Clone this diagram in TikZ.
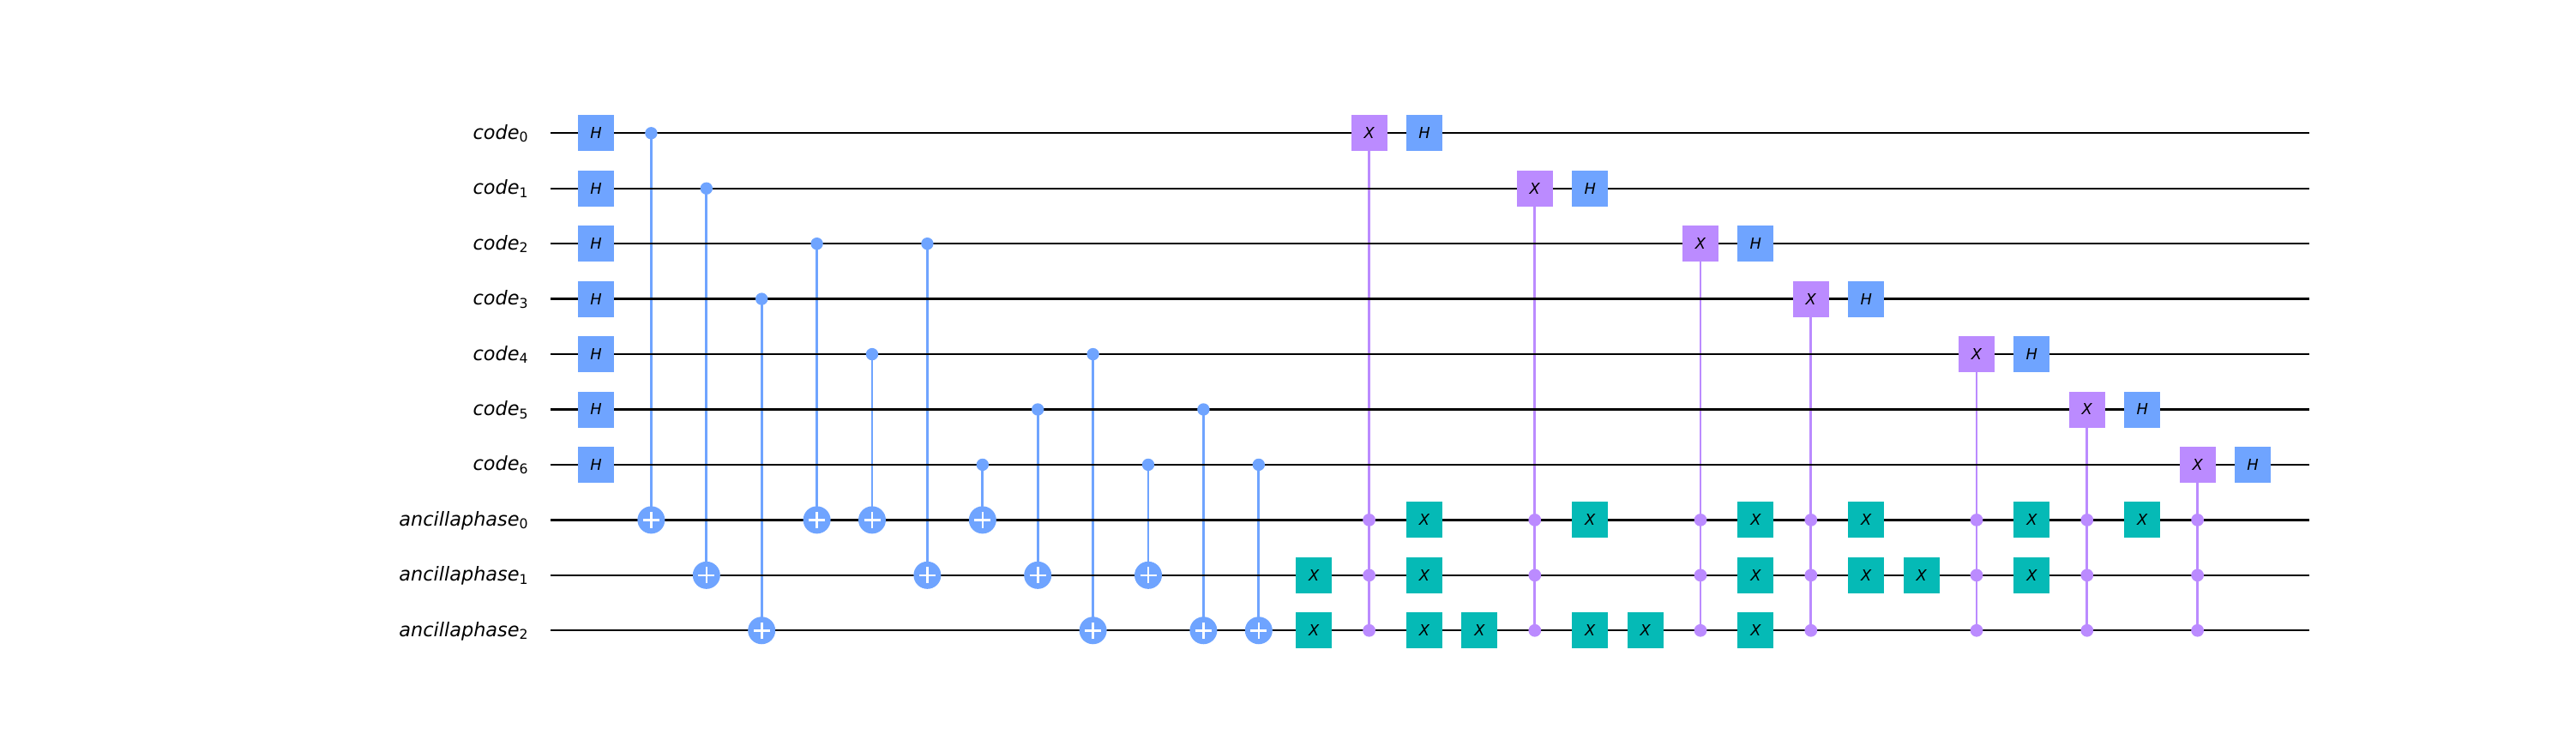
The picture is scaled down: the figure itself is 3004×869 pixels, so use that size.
\documentclass[tikz,border=0pt]{standalone}
\usepackage{fontspec}
\setmainfont{DejaVu Sans}
\usetikzlibrary{backgrounds}
\definecolor{hblue}{HTML}{6FA4FF}
\definecolor{xpurple}{HTML}{BB8BFF}
\definecolor{xteal}{HTML}{05BAB6}
\newcommand{\qlabel}[2]{{\itshape #1}\raisebox{-1.8pt}{\fontsize{7.84}{9}\selectfont #2}}
\newcommand{\colx}{695+64.4*\k}
\newcommand{\rowy}{155.3+64.44*\r}
\tikzset{
  gatebox/.style={rectangle,minimum size=21pt,inner sep=0pt,font=\fontsize{8.9}{10}\selectfont\itshape},
  hgate/.style={gatebox,fill=hblue},
  xgate/.style={gatebox,fill=xteal},
  mcxgate/.style={gatebox,fill=xpurple},
  ctrlblue/.style={circle,fill=hblue,minimum size=7.2pt,inner sep=0pt},
  ctrlpurple/.style={circle,fill=xpurple,minimum size=7.4pt,inner sep=0pt},
  target/.style={circle,fill=hblue,minimum size=16pt,inner sep=0pt,
    path picture={
      \draw[white,line width=1.3pt] (path picture bounding box.center) ++(-9.5,0) -- ++(19,0);
      \draw[white,line width=1.3pt] (path picture bounding box.center) ++(0,-9.5) -- ++(0,19);
    }},
  wire/.style={black,line width=1.15pt},
  cxline/.style={hblue,line width=1.45pt},
  mcxline/.style={xpurple,line width=1.45pt},
  qname/.style={anchor=base east,inner sep=0pt,font=\fontsize{11.2}{13}\selectfont}
}
\begin{document}
\begin{tikzpicture}[x=0.5pt,y=-0.5pt]
\useasboundingbox (0,0) rectangle (3004,869);
% register labels and wire ends
\foreach \r/\nm/\i in {0/code/0,1/code/1,2/code/2,3/code/3,4/code/4,5/code/5,6/code/6,
    7/ancillaphase/0,8/ancillaphase/1,9/ancillaphase/2}{
  \node[qname] (q\r) at (616,{\rowy+7}) {\qlabel{\nm}{\i}};
  \coordinate (wl\r) at (642,{\rowy});
  \coordinate (wr\r) at (2693,{\rowy});
}
% H gates
\foreach \k/\r in {0/0,0/1,0/2,0/3,0/4,0/5,0/6,15/0,18/1,21/2,23/3,26/4,28/5,30/6}{
  \node[hgate] (h\k r\r) at ({\colx},{\rowy}) {H};
}
% X gates
\foreach \k/\r in {13/8,13/9,15/7,15/8,15/9,16/9,18/7,18/9,19/9,21/7,21/8,21/9,23/7,23/8,24/8,26/7,26/8,28/7}{
  \node[xgate] (x\k r\r) at ({\colx},{\rowy}) {X};
}
% CNOT gates
\foreach \k/\a/\b in {1/0/7,2/1/8,3/3/9,4/2/7,5/4/7,6/2/8,7/6/7,8/5/8,9/4/9,10/6/8,11/5/9,12/6/9}{
  \node[ctrlblue] (c\k) at ({695+64.4*\k},{155.3+64.44*\a}) {};
  \node[target] (t\k) at ({695+64.4*\k},{155.3+64.44*\b}) {};
  \begin{pgfonlayer}{background}
    \draw[cxline] (c\k.center) -- (t\k.center);
  \end{pgfonlayer}
}
% multi-controlled X gates
\foreach \k/\a in {14/0,17/1,20/2,22/3,25/4,27/5,29/6}{
  \node[mcxgate] (m\k) at ({695+64.4*\k},{155.3+64.44*\a}) {X};
  \foreach \r in {7,8,9}{
    \node[ctrlpurple] (m\k c\r) at ({\colx},{\rowy}) {};
  }
  \begin{pgfonlayer}{background}
    \draw[mcxline] (m\k.center) -- (m\k c9.center);
  \end{pgfonlayer}
}
% wires
\begin{pgfonlayer}{background}
\foreach \r in {0,...,9}{
  \draw[wire] (wl\r) -- (wr\r);
}
\end{pgfonlayer}
\end{tikzpicture}
\end{document}
